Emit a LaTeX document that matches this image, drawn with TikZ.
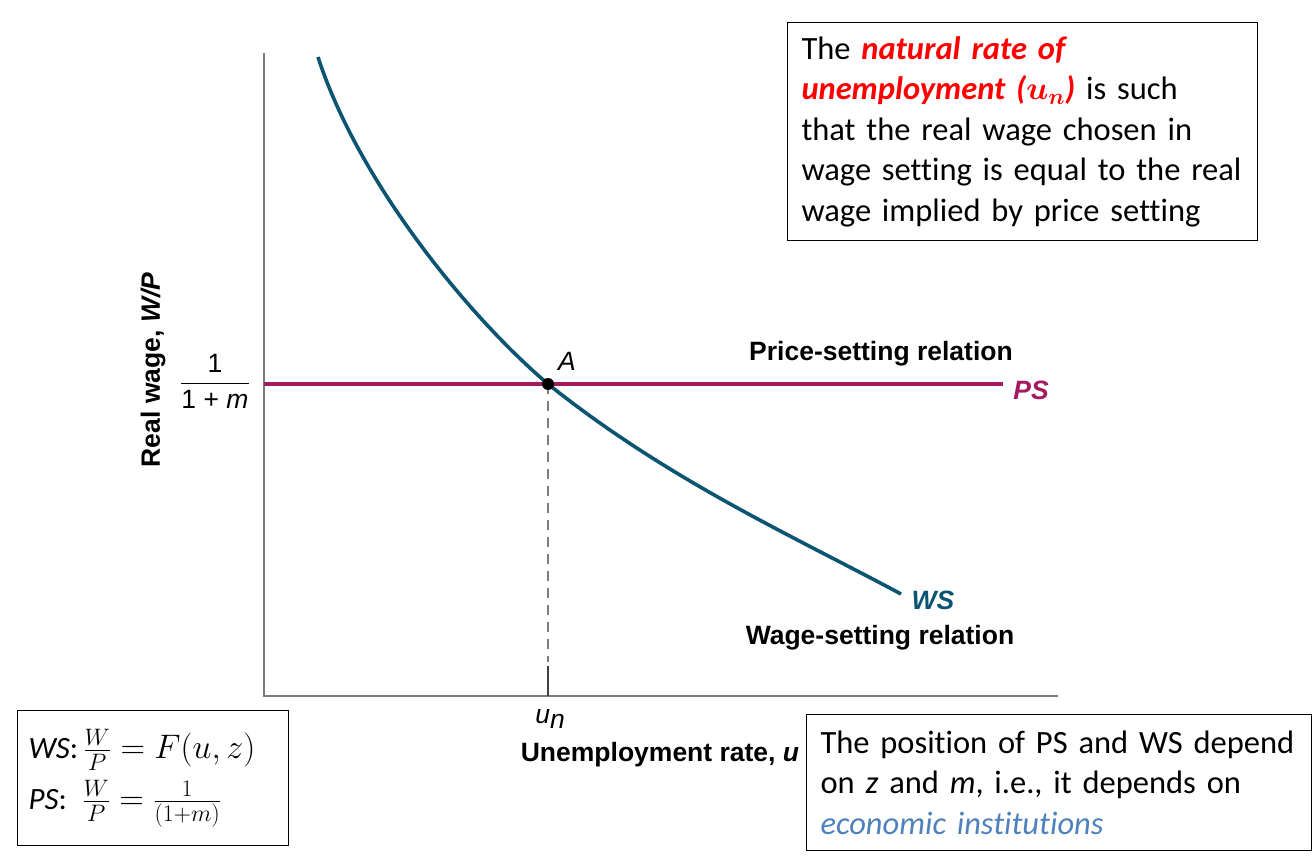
\RequirePackage{fix-cm}
\documentclass[tikz,border=0pt]{standalone}
\usepackage{amsmath}
\usepackage{bm}
\usepackage{fontspec}
\setmainfont{Carlito}[Ligatures={NoCommon}]
\newfontfamily\chartfont{Liberation Sans}
\usetikzlibrary{positioning, calc}
\definecolor{wsblue}{RGB}{11, 85, 115}
\definecolor{psmagenta}{RGB}{165, 25, 95}
\definecolor{axisgray}{RGB}{125, 125, 125}
\definecolor{instblue}{RGB}{79, 129, 189}
\tikzstyle{textbox} = [rectangle, draw=black, line width=1pt, align=left, anchor=north west, inner xsep=14pt, inner ysep=0pt, font=\fontsize{32.5}{40.5}\selectfont]
\tikzstyle{chartlabel} = [font=\chartfont\bfseries\fontsize{26.5}{30}\selectfont, inner sep=0pt]
\tikzstyle{plainlabel} = [font=\chartfont\fontsize{26.5}{30}\selectfont, inner sep=0pt]
\tikzstyle{axisline} = [draw=axisgray, line width=1.6pt]

\begin{document}
\begin{tikzpicture}[x=1pt, y=-1pt]
    \useasboundingbox (0,0) rectangle (1314,858);

    % Axes
    \coordinate (origin) at (264,696);
    \coordinate (ytop) at (264,53);
    \coordinate (xend) at (1058,696);
    \draw[axisline] (ytop) -- (origin) -- (xend);

    % Price-setting line
    \coordinate (psstart) at (264,384);
    \coordinate (psend) at (1003,384);
    \draw[psmagenta, line width=3.2pt] (psstart) -- (psend);

    % Wage-setting curve
    \coordinate (A) at (548,384);
    \draw[wsblue, line width=3.6pt] (318,57) .. controls (358,181) and (468,316) .. (A)
        .. controls (668,480) and (791,535) .. (901,594);

    % Equilibrium
    \coordinate (dashend) at (548,662);
    \coordinate (tick) at (548,696);
    \draw[axisgray, line width=1.2pt, dash pattern=on 10pt off 7pt] (A) -- (dashend);
    \draw[black!75, line width=1.4pt] ($(dashend)+(0,4)$) -- (tick);
    \fill[black] (A) circle (6pt);
    \node[plainlabel, font=\chartfont\itshape\fontsize{26.5}{30}\selectfont] (alabel) at (567,361) {A};

    % Labels
    \node[chartlabel] (pstext) at (881,354) {Price-setting relation};
    \node[chartlabel, text=psmagenta, font=\chartfont\bfseries\itshape\fontsize{26.5}{30}\selectfont] (pslabel) at (1031,390) {PS};
    \node[chartlabel, text=wsblue, font=\chartfont\bfseries\itshape\fontsize{26.5}{30}\selectfont] (wslabel) at (933,600) {WS};
    \node[chartlabel] (wstext) at (880,638) {Wage-setting relation};
    \node[plainlabel] (unlabel) at (550,719) {\textit{u}\raisebox{-0.35ex}{\textit{n}}};
    \node[chartlabel] (xlabel) at (660,755) {Unemployment rate, \textit{u}};
    \node[chartlabel, rotate=90] (ylabel) at (153,370) {Real wage, \textit{W/P}};
    \node[plainlabel] (ylevel) at (215,381) {$\dfrac{\mbox{1}}{\mbox{1 + \textit{m}}}$};

    % Text boxes
    \node[textbox, minimum width=470pt, minimum height=218pt, text width=442pt] (natbox) at (787,22) {The \textcolor{red}{\textbf{\textit{natural rate of}}}\\
        \textcolor{red}{\textbf{\textit{unemployment (}}$\bm{u_n}$\textbf{\textit{)}}} is such\\
        that the real wage chosen in\\
        wage setting is equal to the real\\
        wage implied by price setting};
    \node[textbox, minimum width=271pt, minimum height=135pt, text width=249pt, inner xsep=11pt, font=\fontsize{31}{51}\selectfont] (eqbox) at (17,710) {\textit{WS}:\,{\fontsize{34}{51}\selectfont$\frac{W}{P} = F(u,z)$}\\
        \textit{PS}:\, {\fontsize{34}{51}\selectfont$\frac{W}{P} = \frac{1}{(1+m)}$}};
    \node[textbox, minimum width=505pt, minimum height=136pt, text width=477pt] (instbox) at (806,714) {The position of PS and WS depend\\
        on \textit{z} and \textit{m}, i.e., it depends on\\
        \textcolor{instblue}{\textit{economic institutions}}};
\end{tikzpicture}
\end{document}
